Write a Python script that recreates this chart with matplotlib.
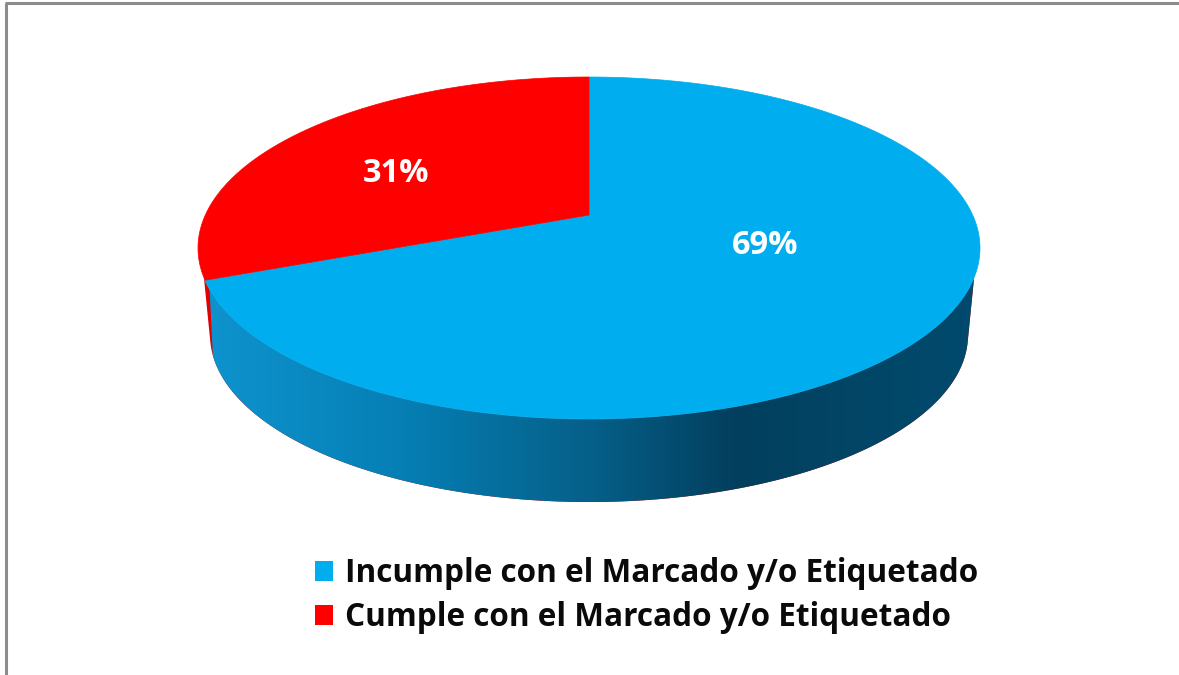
import numpy as np
import matplotlib
matplotlib.use("Agg")
import matplotlib.pyplot as plt
from matplotlib.patches import Polygon, Patch
from matplotlib.colors import LinearSegmentedColormap

categories = ["Incumple con el Marcado y/o Etiquetado", "Cumple con el Marcado y/o Etiquetado"]
values = [69, 31]
colors = ["#00AEEF", "#FF0000"]
labels = ["69%", "31%"]

plt.rcParams['font.family'] = ['Open Sans', 'DejaVu Sans']
fig = plt.figure(figsize=(11.79, 6.75), dpi=100, facecolor='white')
ax = fig.add_axes([0, 0, 1, 1])
ax.set_xlim(0, 1179)
ax.set_ylim(675, 0)
ax.axis('off')

# top and bottom ellipses of the tilted disc
CX, CY, RX, RY = 589, 248, 391, 171
BCY, BRX, BRY = 335, 379, 167
TILT = 0.193   # perspective shift of the pie centre


def rim(t_deg):
    """Point on the top rim for a true pie angle, under perspective."""
    t = np.radians(np.asarray(t_deg, float))
    x, y = np.cos(t), np.sin(t)
    d = 1 + TILT * y
    return CX + RX * x * np.sqrt(1 - TILT**2) / d, CY - RY * (y + TILT) / d


def ell(t_deg, cy, rx, ry):
    t = np.radians(np.asarray(t_deg, float))
    return CX + rx * np.cos(t), cy - ry * np.sin(t)


# side wall
fx, fy = ell(np.linspace(-10, -170, 200), CY, RX, RY)
bx, by = ell(np.linspace(-178, -2, 200), BCY, BRX, BRY)
side = np.column_stack([np.r_[fx, bx], np.r_[fy, by]])
ax.add_patch(Polygon(side, closed=True, fc='#E00000', ec='none', zorder=1))

# blue side: left edge slightly inside the red sliver
lx, ly = ell(np.linspace(-10, -166, 200), CY, RX, RY)
b2x, b2y = ell(np.linspace(-173, -2, 200), BCY, BRX, BRY)
blue_side = np.column_stack([np.r_[lx, b2x], np.r_[ly, b2y]])
clip = Polygon(blue_side, closed=True, fc='none', ec='none', transform=ax.transData)
ax.add_patch(clip)
cmap = LinearSegmentedColormap.from_list("side", [
    (0.00, "#0E93CE"), (0.25, "#067FB5"), (0.50, "#055F88"),
    (0.68, "#033F5E"), (0.85, "#024666"), (1.00, "#014A6E")])
im = ax.imshow(np.linspace(0, 1, 512)[None, :], cmap=cmap, aspect='auto',
               extent=(208, 980, 520, 250), zorder=2, interpolation='bilinear')
im.set_clip_path(clip)
ax.set_xlim(0, 1179)
ax.set_ylim(675, 0)

# top face wedges, clockwise from 12 o'clock
start = 90.0
apex = (CX, CY - RY * TILT)
handles = []
for v, c in zip(values, colors):
    sweep = 360.0 * v / sum(values)
    tt = np.linspace(start, start - sweep, 300)
    x, y = rim(tt)
    pts = np.vstack([apex, np.column_stack([x, y])])
    ax.add_patch(Polygon(pts, closed=True, fc=c, ec=c, lw=0.5, zorder=3))
    handles.append(Patch(fc=c, ec='none'))
    start -= sweep

# data labels
ax.text(765, 246, labels[0], color='white', fontsize=23.5, fontweight='bold',
        ha='center', va='center', zorder=4)
ax.text(396, 174, labels[1], color='white', fontsize=23.5, fontweight='bold',
        ha='center', va='center', zorder=4)

ax.legend(handles, categories, loc='upper left', bbox_to_anchor=(315 / 1179, 1 - 557 / 675),
          frameon=False, prop={'size': 22.7, 'weight': 'bold'}, labelcolor='#0A0A0A',
          handlelength=0.57, handleheight=0.6, handletextpad=0.38, labelspacing=0.35,
          borderpad=0, borderaxespad=0)

# frame of the picture
ax.plot([6, 6], [675, 3], color='#8C8C8C', lw=2.2, zorder=5, solid_capstyle='butt')
ax.plot([5, 1179], [3, 3], color='#8C8C8C', lw=2.2, zorder=5, solid_capstyle='butt')

fig.savefig("out.png", dpi=100)
